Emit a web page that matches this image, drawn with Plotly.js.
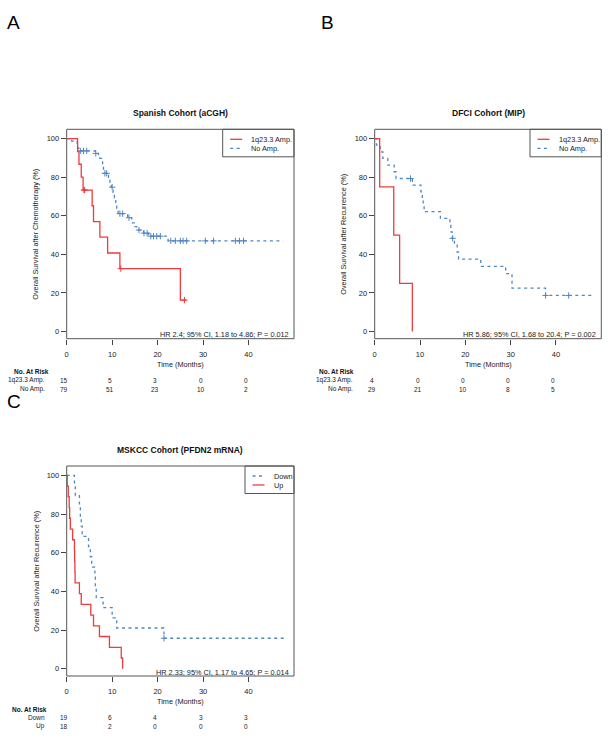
<!DOCTYPE html>
<html>
<head>
<meta charset="utf-8">
<script src="https://cdn.plot.ly/plotly-3.0.1.min.js"></script>
<style>html,body{margin:0;padding:0;background:#fff;}#chart{width:612px;height:739px;}</style>
</head>
<body>
<div id="chart"></div>
<script>
// ---------------- DATA ----------------
// Panel A: Spanish Cohort (aCGH)
const aAmpTime = [0, 2.4, 2.7, 3.2, 3.6, 5.6, 5.9, 7.3, 9.0, 11.7, 25.0, 26.3];
const aAmpSurv = [100, 93.3, 86.7, 80.0, 73.3, 65.2, 57.0, 48.9, 40.7, 32.6, 16.3, 16.3];
const aAmpCensT = [3.8, 3.95, 11.9, 25.9];
const aAmpCensS = [73.3, 73.3, 32.6, 16.3];

const aNoTime = [0, 1.1, 2.3, 2.5, 2.7, 6.3, 7.0, 7.3, 7.7, 7.9, 8.1, 9.2, 9.5, 9.8, 10.2, 10.5, 10.8, 11.0, 11.3, 13.4, 14.3, 15.0, 15.4, 16.9, 18.0, 22.3, 47.6];
const aNoSurv = [100, 98.7, 96.2, 94.9, 93.6, 92.3, 91.0, 89.7, 88.4, 85.8, 82.0, 79.9, 77.4, 74.8, 72.1, 69.3, 66.6, 63.8, 61.1, 59.0, 56.3, 54.4, 52.6, 51.0, 49.4, 47.0, 47.0];
const aNoCensT = [3.0, 3.7, 4.4, 6.4, 8.4, 8.8, 10.0, 11.7, 12.3, 13.7, 15.9, 17.0, 17.7, 18.5, 19.1, 19.8, 20.6, 22.9, 23.9, 25.0, 25.6, 26.4, 30.5, 32.3, 37.1, 38.0, 38.9];
const aNoCensS = [93.6, 93.6, 93.6, 92.3, 82.0, 82.0, 74.8, 61.1, 61.1, 59.0, 52.6, 51.0, 51.0, 49.4, 49.4, 49.4, 49.4, 47.0, 47.0, 47.0, 47.0, 47.0, 47.0, 47.0, 47.0, 47.0, 47.0];

// Panel B: DFCI Cohort (MIP)
const bAmpTime = [0, 1.1, 4.2, 5.5, 8.3];
const bAmpSurv = [100, 75, 50, 25, 0];

const bNoTime = [0, 0.4, 1.2, 1.8, 2.9, 4.3, 4.7, 8.3, 10.2, 10.5, 10.7, 10.9, 14.5, 16.6, 16.8, 17.1, 17.6, 18.2, 18.5, 23.4, 28.9, 30.3, 37.7, 47.9];
const bNoSurv = [100, 96.6, 93.1, 89.7, 86.2, 82.8, 79.3, 75.9, 72.4, 69.0, 65.5, 62.1, 58.6, 55.2, 51.7, 48.3, 44.8, 41.2, 37.5, 33.8, 30.0, 22.5, 18.7, 18.7];
const bNoCensT = [7.9, 17.2, 37.7, 42.8];
const bNoCensS = [79.3, 48.3, 18.7, 18.7];

// Panel C: MSKCC Cohort (PFDN2 mRNA)
const cDownTime = [0, 1.7, 1.9, 2.8, 3.0, 3.2, 3.4, 4.8, 5.2, 5.5, 6.2, 6.3, 6.5, 8.0, 10.0, 11.0, 21.4, 48.3];
const cDownSurv = [100, 94.7, 89.5, 84.2, 78.9, 73.7, 68.4, 63.2, 57.9, 52.6, 47.4, 42.1, 36.8, 31.6, 26.3, 21.1, 15.8, 15.8];
const cDownCensT = [21.4];
const cDownCensS = [15.8];

const cUpTime = [0, 0.1, 0.35, 0.55, 0.65, 0.8, 1.3, 1.7, 1.75, 1.8, 1.85, 2.8, 3.2, 5.3, 5.9, 7.2, 9.4, 12.0, 12.3];
const cUpSurv = [100, 94.4, 88.9, 83.3, 77.8, 72.2, 66.7, 61.1, 55.6, 50.0, 44.4, 38.9, 33.3, 27.8, 22.2, 16.7, 11.1, 5.6, 0];

// Number at risk
const riskTimes = [0, 10, 20, 30, 40];
const riskA1 = [15, 5, 3, 0, 0];
const riskA2 = [79, 51, 23, 10, 2];
const riskB1 = [4, 0, 0, 0, 0];
const riskB2 = [29, 21, 10, 8, 5];
const riskC1 = [19, 6, 4, 3, 3];
const riskC2 = [18, 2, 0, 0, 0];

const xTicks = [0, 10, 20, 30, 40];
const yTicks = [0, 20, 40, 60, 80, 100];

const titles = ["Spanish Cohort (aCGH)", "DFCI Cohort (MIP)", "MSKCC Cohort (PFDN2 mRNA)"];
const yTitles = ["Overall Survival after Chemotherapy (%)", "Overall Survival after Recurrence (%)", "Overall Survival after Recurrence (%)"];
const hrTexts = ["HR 2.4; 95% CI, 1.18 to 4.86; P = 0.012", "HR 5.86; 95% CI, 1.68 to 20.4; P = 0.002", "HR 2.33; 95% CI, 1.17 to 4.65; P = 0.014"];
const legA = ["1q23.3 Amp.", "No Amp."];
const legC = ["Down", "Up"];

// ---------------- STYLE ----------------
const W = 612, H = 739;
const RED = "#ee3b3b", BLUE = "#4f86c4";
const FONT = "Liberation Sans, Arial, sans-serif";
const redLine = {color: RED, width: 1.3, shape: "hv"};
const blueLine = {color: BLUE, width: 1.3, shape: "hv", dash: "3px,3.5px"};
const px = v => v / W;
const py = v => 1 - v / H;

function stepTrace(t, s, line, xa, ya) {
  return {x: t, y: s, type: "scatter", mode: "lines", line: line, xaxis: xa, yaxis: ya, hoverinfo: "skip", showlegend: false};
}
function censTrace(t, s, color, xa, ya) {
  return {x: t, y: s, type: "scatter", mode: "markers", xaxis: xa, yaxis: ya, showlegend: false, hoverinfo: "skip",
    marker: {symbol: "cross-thin-open", size: 4.5, color: color, line: {color: color, width: 1}}};
}

const data = [
  stepTrace(aNoTime, aNoSurv, blueLine, "x", "y"),
  censTrace(aNoCensT, aNoCensS, BLUE, "x", "y"),
  stepTrace(aAmpTime, aAmpSurv, redLine, "x", "y"),
  censTrace(aAmpCensT, aAmpCensS, RED, "x", "y"),
  stepTrace(bNoTime, bNoSurv, blueLine, "x2", "y2"),
  censTrace(bNoCensT, bNoCensS, BLUE, "x2", "y2"),
  stepTrace(bAmpTime, bAmpSurv, redLine, "x2", "y2"),
  stepTrace(cDownTime, cDownSurv, blueLine, "x3", "y3"),
  censTrace(cDownCensT, cDownCensS, BLUE, "x3", "y3"),
  stepTrace(cUpTime, cUpSurv, redLine, "x3", "y3")
];

// panel geometry (pixels)
const panels = [
  {l: 66.7, r: 294, t: 129.3, b: 338.7, xa: "x", ya: "y"},
  {l: 374.7, r: 601.3, t: 129.3, b: 338.7, xa: "x2", ya: "y2"},
  {l: 66.7, r: 294, t: 466, b: 676, xa: "x3", ya: "y3"}
];

function xAxis(p, yanchor) {
  return {domain: [px(p.l), px(p.r)], range: [0, 50], anchor: yanchor, tickvals: xTicks, ticks: "outside", ticklen: 5,
    tickwidth: 1, tickcolor: "#444", showgrid: false, zeroline: false, showline: false,
    tickfont: {family: FONT, size: 7.5, color: "#222"}, ticklabelstandoff: 3, fixedrange: true};
}
function yAxis(p, xanchor) {
  return {domain: [py(p.b), py(p.t)], range: [-3.7, 104.8], anchor: xanchor, tickvals: yTicks, ticks: "outside", ticklen: 5,
    tickwidth: 1, tickcolor: "#444", showgrid: false, zeroline: false, showline: false,
    tickfont: {family: FONT, size: 7.5, color: "#222"}, fixedrange: true};
}

const shapes = [];
const annotations = [];
const txt = (text, x, y, opts) => Object.assign({text: text, x: x, y: y, xref: "paper", yref: "paper", showarrow: false,
  font: {family: FONT, size: 7.3, color: "#222"}, xanchor: "center", yanchor: "middle"}, opts || {});

panels.forEach((p, i) => {
  const xd = p.xa + " domain", yd = p.ya + " domain";
  shapes.push({type: "rect", xref: xd, yref: yd, x0: 0, x1: 1, y0: 0, y1: 1, line: {color: "#555", width: 1}});
  const cx = px((p.l + p.r) / 2);
  annotations.push(txt("<b>" + titles[i] + "</b>", cx, py(p.t - 16), {font: {family: FONT, size: 8.5, color: "#111"}}));
  annotations.push(txt(yTitles[i], px(p.l - 31), py((p.t + p.b) / 2), {textangle: -90}));
  annotations.push(txt("Time (Months)", cx, py(p.b + 25.5)));
  annotations.push(txt(hrTexts[i], px(p.r - 3.5), py(p.b - 3.8), {xanchor: "right"}));
});

// legends
function legend(p, labels, styles, xl) {
  const top = p.t, bot = p.t + 27.5;
  shapes.push({type: "rect", xref: "paper", yref: "paper", x0: px(xl), x1: px(p.r), y0: py(bot), y1: py(top),
    line: {color: "#555", width: 1}, fillcolor: "rgba(255,255,255,0)"});
  labels.forEach((lab, k) => {
    const yy = top + 10 + 9 * k;
    const st = styles[k];
    shapes.push({type: "line", xref: "paper", yref: "paper", x0: px(xl + 7.5), x1: px(xl + 19.5), y0: py(yy), y1: py(yy),
      line: {color: st.color, width: st.width, dash: st.dash || "solid"}});
    annotations.push(txt(lab, px(xl + 26.5), py(yy), {xanchor: "left"}));
  });
}
legend(panels[0], legA, [redLine, blueLine], 222.7);
legend(panels[1], legA, [redLine, blueLine], 530);
legend(panels[2], legC, [blueLine, redLine], 245);

// number at risk tables
function riskTable(p, rowLabels, rows, xa, xLeft) {
  const y0 = p.b + 33;
  annotations.push(txt("<b>No. At Risk</b>", px(xLeft), py(y0), {xanchor: "left", font: {family: FONT, size: 6.5, color: "#111"}}));
  rows.forEach((r, k) => {
    const yy = y0 + 8.7 * (k + 1);
    annotations.push(txt(rowLabels[k], px(p.l - 20), py(yy), {xanchor: "right", font: {family: FONT, size: 6.5, color: "#222"}}));
    r.forEach((v, j) => {
      annotations.push({text: String(v), x: riskTimes[j], y: py(yy), xref: xa, yref: "paper", showarrow: false,
        xanchor: "center", yanchor: "middle", xshift: -2.5, font: {family: FONT, size: 6.5, color: "#222"}});
    });
  });
}
riskTable(panels[0], legA, [riskA1, riskA2], "x", 11.5);
riskTable(panels[1], legA, [riskB1, riskB2], "x2", 317);
riskTable(panels[2], legC, [riskC1, riskC2], "x3", 10);

// panel letters
annotations.push(txt("A", px(14), py(22), {font: {family: FONT, size: 19, color: "#000"}}));
annotations.push(txt("B", px(327), py(22), {font: {family: FONT, size: 19, color: "#000"}}));
annotations.push(txt("C", px(14), py(401), {font: {family: FONT, size: 19, color: "#000"}}));

const layout = {
  width: W, height: H, margin: {l: 0, r: 0, t: 0, b: 0},
  paper_bgcolor: "#fff", plot_bgcolor: "rgba(0,0,0,0)", showlegend: false,
  xaxis: xAxis(panels[0], "y"), yaxis: yAxis(panels[0], "x"),
  xaxis2: xAxis(panels[1], "y2"), yaxis2: yAxis(panels[1], "x2"),
  xaxis3: xAxis(panels[2], "y3"), yaxis3: yAxis(panels[2], "x3"),
  shapes: shapes, annotations: annotations,
  font: {family: FONT}
};

Plotly.newPlot("chart", data, layout, {displayModeBar: false, staticPlot: true});
</script>
</body>
</html>
